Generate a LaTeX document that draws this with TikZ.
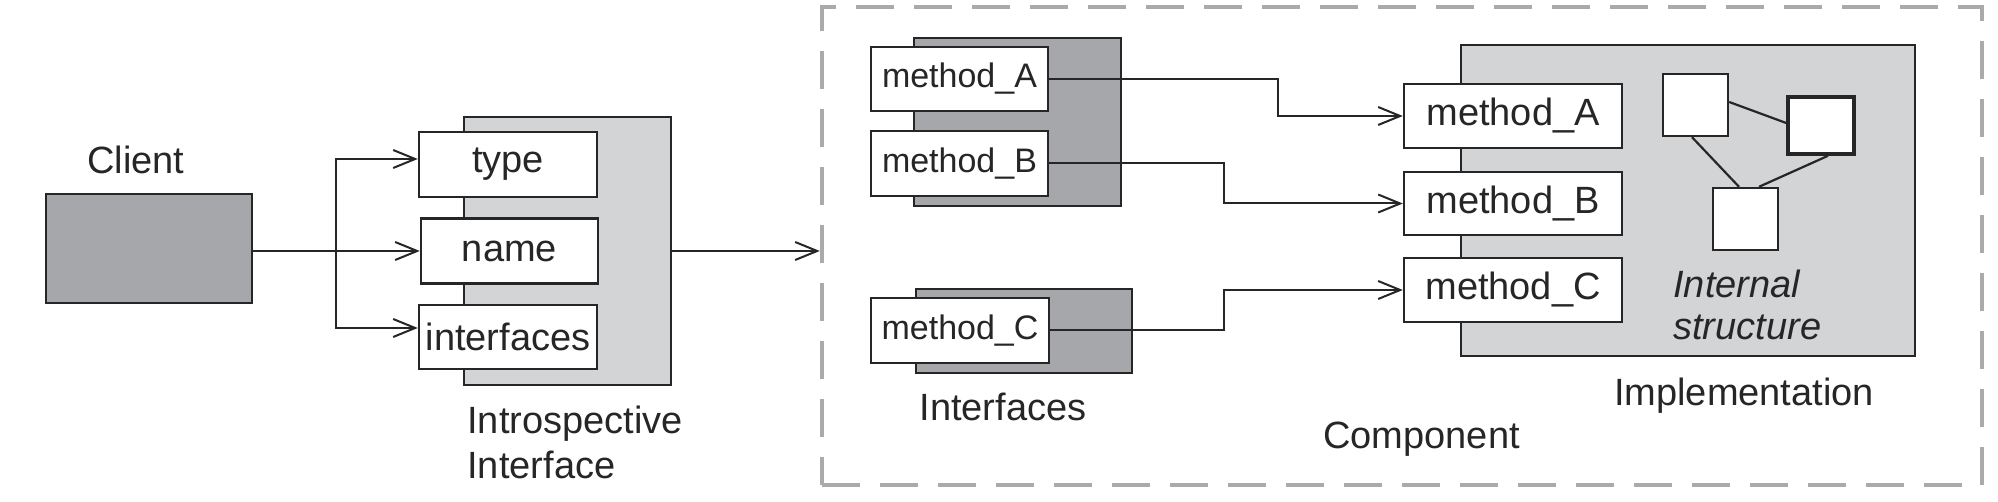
\documentclass[tikz,border=0pt]{standalone}
\usepackage{fontspec}
\setmainfont{Liberation Sans}
\usetikzlibrary{arrows.meta,calc}
\definecolor{darkfill}{HTML}{A6A7AA}
\definecolor{lightfill}{HTML}{D3D4D6}
\definecolor{ink}{HTML}{262626}
\definecolor{dashgray}{HTML}{AAAAAA}
\begin{document}
\begin{tikzpicture}[x=0.5pt,y=-0.5pt,
  wh/.style 2 args={minimum width=#1*0.5pt, minimum height=#2*0.5pt},
  box/.style={draw=ink, line width=1.2pt, fill=white, inner sep=0pt, text=ink},
  darkbox/.style={draw=ink, line width=1.2pt, fill=darkfill, inner sep=0pt},
  lightbox/.style={draw=ink, line width=1.2pt, fill=lightfill, inner sep=0pt},
  dashbox/.style={draw=dashgray, line width=2.2pt, dash pattern=on 19pt off 10pt, inner sep=0pt},
  big/.style={font=\fontsize{19}{22}\selectfont},
  small/.style={font=\fontsize{17}{20}\selectfont},
  lab/.style={inner sep=0pt, text=ink, font=\fontsize{19}{22}\selectfont},
  conn/.style={draw=ink, line width=1pt, -{Straight Barb[length=11pt,width=9pt,line width=1pt]}},
  link/.style={draw=ink, line width=1.1pt}
]
\useasboundingbox (0,0) rectangle (1998,502);
% component frame
\node[dashbox, wh={1160}{478}] (comp) at (1402,246) {};
% client
\node[darkbox, wh={206}{109}] (client) at (149,248.5) {};
\node[lab, anchor=base] (clientlab) at (136,174) {Client};
% introspective interface
\node[lightbox, wh={207}{268}] (ipanel) at (567.5,251) {};
\node[box, big, wh={178}{65}] (type) at (508,164.5) {type};
\node[box, big, wh={177}{65}] (name) at (509.5,251) {name};
\node[box, big, wh={178}{64}] (ifaces) at (508,337) {interfaces};
\node[lab, anchor=base west] (intro1) at (467,433) {Introspective};
\node[lab, anchor=base west] (intro2) at (467,478) {Interface};
% interfaces
\node[darkbox, wh={207}{168}] (abpanel) at (1017.5,122) {};
\node[box, small, wh={177}{64}] (mAL) at (959.5,79) {method\_A};
\node[box, small, wh={177}{65}] (mBL) at (959.5,163.5) {method\_B};
\node[darkbox, wh={216}{84}] (cpanel) at (1024,331) {};
\node[box, small, wh={178}{65}] (mCL) at (960,330.5) {method\_C};
\node[lab, anchor=base] (ifl) at (1003,420) {Interfaces};
\node[lab, anchor=base] (compl) at (1421.5,448) {Component};
% implementation
\node[lightbox, wh={454}{311}] (impl) at (1688,200.5) {};
\node[box, big, wh={218}{64}] (mAR) at (1513,116) {method\_A};
\node[box, big, wh={218}{63}] (mBR) at (1513,203.5) {method\_B};
\node[box, big, wh={218}{64}] (mCR) at (1513,290) {method\_C};
\node[box, wh={65}{62}] (sq1) at (1695.5,105) {};
\node[box, line width=1.8pt, wh={66}{57}] (sq2) at (1821,125.5) {};
\node[box, wh={65}{62}] (sq3) at (1745.5,219) {};
\node[lab, anchor=base west, font=\fontsize{19}{22}\selectfont\itshape] (int1) at (1673,298) {Internal};
\node[lab, anchor=base west, font=\fontsize{19}{22}\selectfont\itshape] (int2) at (1673,340) {structure};
\node[lab, anchor=base] (impll) at (1744,405) {Implementation};
% connectors
\coordinate (br) at (336,251);
\draw[conn] (client.east |- name.west) -- (name.west);
\draw[conn] (br) |- ($(type.west)+(0,-5.5)$);
\draw[conn] (br) |- ($(ifaces.west)+(0,-9)$);
\draw[conn] (ipanel.east) -- (ipanel.east -| comp.west);
\draw[conn] (mAL.east) -- ++(229,0) |- (mAR.west);
\draw[conn] (mBL.east) -- ++(175,0) |- (mBR.west);
\draw[conn] (mCL.east) -- ++(174,0) |- (mCR.west);
% internal structure links
\draw[link] ($(sq1.east)+(0,-3)$) -- ($(sq2.west)+(0,-2.5)$);
\draw[link] ($(sq1.south)+(-3.5,0)$) -- ($(sq3.north)+(-6.5,0)$);
\draw[link] ($(sq2.south)+(7,0)$) -- ($(sq3.north)+(13.5,0)$);
\end{tikzpicture}
\end{document}
